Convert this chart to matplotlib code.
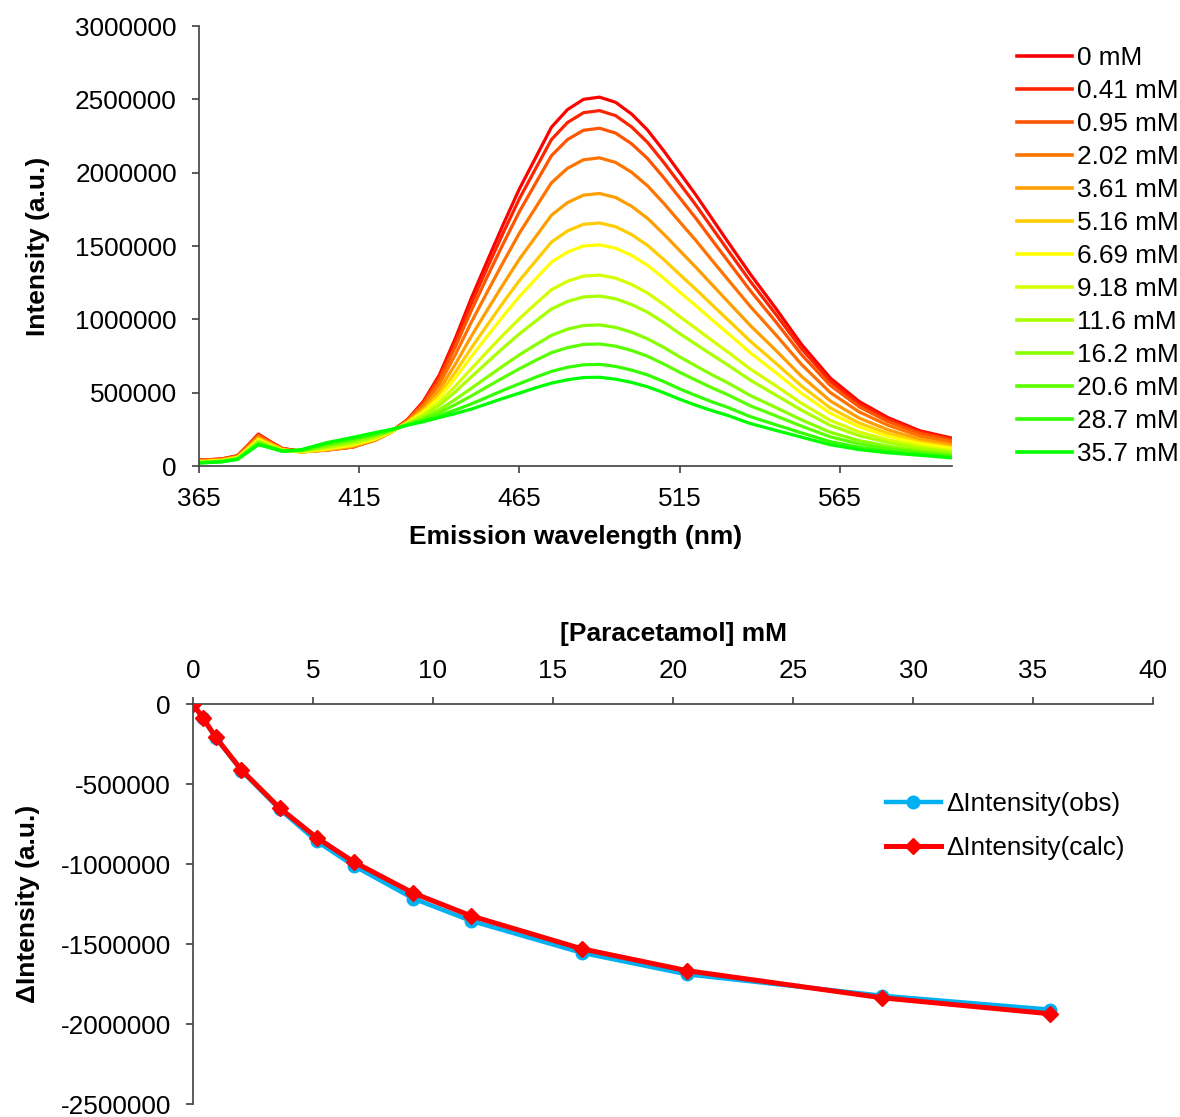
import matplotlib
matplotlib.use("Agg")
import matplotlib.pyplot as plt
from matplotlib.ticker import FuncFormatter, FixedLocator

plt.rcParams['font.family'] = ['Liberation Sans', 'DejaVu Sans']
plt.rcParams['axes.unicode_minus'] = False

# ---------------- data: emission spectra (intensity in thousands a.u.) ----------------
wavelength = [365, 372, 377, 380, 383.5, 387, 391, 397, 405, 413, 420, 425, 430, 435, 440,
              445, 450, 455, 460, 465, 470, 475, 480, 485, 490, 495, 500, 505, 510, 515,
              520, 525, 530, 537, 545, 553, 562, 571, 580, 590, 600]

labels = ["0 mM", "0.41 mM", "0.95 mM", "2.02 mM", "3.61 mM", "5.16 mM", "6.69 mM",
          "9.18 mM", "11.6 mM", "16.2 mM", "20.6 mM", "28.7 mM", "35.7 mM"]

colors = ["#FF0000", "#FF2400", "#FF5500", "#FF7400", "#FF9E00", "#FFCC00", "#FFFF00",
          "#D4FF00", "#AAFF00", "#88FF00", "#5AFF00", "#33FF00", "#00FF00"]

I_0 = [40, 48, 70, 135, 218, 170, 120, 100, 112, 130, 180, 235, 315, 440, 620, 870, 1145, 1400, 1650, 1890, 2100, 2310, 2430, 2500, 2515, 2480, 2400, 2290, 2150, 2000, 1850, 1690, 1530, 1310, 1075, 830, 600, 440, 330, 240, 190]
I_041 = [39, 47, 69, 133, 214, 168, 119, 99, 110, 129, 178, 233, 313, 433, 606, 845, 1109, 1353, 1593, 1823, 2025, 2226, 2342, 2409, 2423, 2389, 2312, 2206, 2071, 1926, 1781, 1627, 1473, 1261, 1035, 800, 578, 424, 318, 232, 184]
I_095 = [38, 46, 67, 130, 210, 165, 118, 97, 109, 129, 177, 232, 311, 425, 588, 813, 1061, 1292, 1518, 1735, 1926, 2116, 2226, 2289, 2303, 2270, 2197, 2096, 1967, 1829, 1691, 1544, 1399, 1197, 983, 760, 550, 404, 303, 221, 175]
I_202 = [36, 44, 65, 125, 202, 160, 116, 96, 108, 130, 176, 230, 306, 410, 557, 759, 981, 1188, 1392, 1588, 1760, 1931, 2030, 2088, 2101, 2070, 2003, 1910, 1792, 1665, 1539, 1405, 1273, 1089, 895, 693, 501, 369, 278, 204, 161]
I_361 = [33, 41, 61, 120, 193, 155, 113, 95, 110, 134, 179, 231, 301, 392, 520, 694, 885, 1065, 1241, 1411, 1561, 1710, 1796, 1847, 1858, 1831, 1771, 1688, 1582, 1469, 1356, 1239, 1122, 959, 789, 612, 444, 327, 247, 183, 144]
I_516 = [31, 39, 59, 115, 185, 150, 111, 95, 114, 139, 182, 231, 297, 378, 489, 640, 805, 962, 1117, 1265, 1396, 1527, 1603, 1648, 1657, 1632, 1578, 1504, 1409, 1306, 1206, 1101, 998, 852, 701, 546, 396, 293, 222, 165, 129]
I_669 = [29, 37, 57, 111, 180, 146, 109, 96, 117, 144, 185, 232, 294, 367, 466, 600, 746, 886, 1024, 1156, 1274, 1390, 1459, 1500, 1508, 1485, 1436, 1368, 1281, 1186, 1094, 999, 906, 773, 637, 496, 360, 267, 203, 152, 119]
I_918 = [27, 35, 54, 106, 172, 141, 107, 99, 124, 153, 192, 235, 290, 352, 435, 545, 664, 781, 896, 1005, 1105, 1202, 1260, 1295, 1302, 1281, 1238, 1179, 1102, 1019, 939, 857, 778, 662, 547, 428, 311, 232, 178, 134, 104]
I_116 = [26, 34, 52, 103, 166, 138, 106, 101, 130, 160, 198, 238, 288, 341, 413, 507, 608, 708, 807, 901, 987, 1071, 1122, 1153, 1159, 1140, 1101, 1048, 979, 903, 831, 759, 689, 586, 484, 381, 277, 207, 160, 121, 94]
I_162 = [24, 32, 50, 98, 159, 133, 104, 104, 139, 171, 207, 241, 284, 327, 383, 454, 530, 607, 684, 758, 826, 891, 933, 958, 962, 945, 912, 867, 809, 744, 683, 623, 567, 481, 399, 315, 230, 173, 135, 104, 80]
I_206 = [22, 30, 48, 95, 154, 130, 102, 107, 146, 179, 214, 244, 282, 318, 364, 419, 478, 541, 603, 663, 720, 773, 807, 829, 832, 817, 788, 748, 696, 639, 586, 534, 486, 411, 342, 272, 199, 151, 119, 93, 71]
I_287 = [21, 29, 46, 92, 148, 127, 101, 109, 154, 188, 222, 247, 279, 308, 343, 382, 423, 470, 517, 561, 605, 645, 673, 690, 693, 679, 654, 621, 576, 526, 481, 438, 400, 337, 281, 226, 166, 127, 101, 81, 61]
I_357 = [20, 28, 45, 90, 145, 125, 100, 112, 160, 195, 228, 250, 278, 302, 330, 358, 388, 425, 462, 497, 533, 565, 588, 603, 605, 592, 570, 540, 500, 455, 415, 378, 345, 290, 243, 197, 145, 112, 90, 73, 55]

spectra = [I_0, I_041, I_095, I_202, I_361, I_516, I_669, I_918, I_116, I_162, I_206, I_287, I_357]

# ---------------- data: titration ----------------
conc = [0, 0.41, 0.95, 2.02, 3.61, 5.16, 6.69, 9.18, 11.6, 16.2, 20.6, 28.7, 35.7]
dI_obs = [0, -90000, -212000, -417000, -658000, -858000, -1010000, -1216000, -1356000,
          -1555000, -1690000, -1823000, -1910000]
dI_calc = [0, -86000, -208000, -412000, -650000, -836000, -986000, -1182000, -1325000,
           -1530000, -1667000, -1836000, -1936000]

FS = 18.8
FSB = 19
W, H = 1180, 1117
fig = plt.figure(figsize=(W / 100, H / 100), dpi=100)

def fx(px):
    return px / W

def fy(py):
    return 1 - py / H

plain = FuncFormatter(lambda v, p: "%d" % v)

# ---------------- top chart ----------------
ax1 = fig.add_axes([fx(199), fy(466), fx(952 - 199), (466 - 26) / H])
for lab, col, vals in zip(labels, colors, spectra):
    ax1.plot(wavelength, [v * 1000 for v in vals], color=col, lw=2.3, label=lab,
             solid_joinstyle='round')
ax1.set_xlim(365, 600)
ax1.set_ylim(0, 3000000)
ax1.xaxis.set_major_locator(FixedLocator([365, 415, 465, 515, 565]))
ax1.yaxis.set_major_locator(FixedLocator([0, 500000, 1000000, 1500000, 2000000, 2500000, 3000000]))
ax1.yaxis.set_major_formatter(plain)
for s in ["top", "right"]:
    ax1.spines[s].set_visible(False)
for s in ["left", "bottom"]:
    ax1.spines[s].set_color("#404040")
    ax1.spines[s].set_linewidth(1.2)
ax1.tick_params(axis="both", direction="out", length=5, width=1.2, color="#404040",
                labelsize=FS, pad=11)
ax1.tick_params(axis="x", pad=10)
ax1.set_xlabel("Emission wavelength (nm)", fontsize=FSB, fontweight="bold", labelpad=10)
ax1.set_ylabel("Intensity (a.u.)", fontsize=FSB, fontweight="bold", labelpad=18)

leg1 = ax1.legend(loc="upper left", bbox_to_anchor=(fx(1017), fy(46)),
                  bbox_transform=fig.transFigure, frameon=False, fontsize=FS,
                  handlelength=2.1, handletextpad=0.2, labelspacing=0.345,
                  borderpad=0, borderaxespad=0)
for h in leg1.get_lines():
    h.set_linewidth(2.6)

# ---------------- bottom chart ----------------
ax2 = fig.add_axes([fx(193), fy(1104), fx(1153 - 193), (1104 - 704) / H])
ax2.plot(conc, dI_obs, color="#00B0F0", lw=3.2, marker="o", ms=9,
         label="ΔIntensity(obs)", zorder=3)
ax2.plot(conc, dI_calc, color="#FF0000", lw=3.6, marker="D", ms=8,
         label="ΔIntensity(calc)", zorder=4)
ax2.set_xlim(0, 40)
ax2.set_ylim(-2500000, 0)
ax2.xaxis.set_major_locator(FixedLocator(list(range(0, 41, 5))))
ax2.yaxis.set_major_locator(FixedLocator([-2500000, -2000000, -1500000, -1000000, -500000, 0]))
ax2.yaxis.set_major_formatter(plain)
ax2.xaxis.tick_top()
ax2.xaxis.set_label_position("top")
for s in ["bottom", "right"]:
    ax2.spines[s].set_visible(False)
for s in ["left", "top"]:
    ax2.spines[s].set_color("#404040")
    ax2.spines[s].set_linewidth(1.2)
ax2.tick_params(axis="both", direction="out", length=5, width=1.2, color="#404040",
                labelsize=FS, pad=11)
ax2.tick_params(axis="x", pad=10)
ax2.set_xlabel("[Paracetamol] mM", fontsize=FSB, fontweight="bold", labelpad=13)
ax2.set_ylabel("ΔIntensity (a.u.)", fontsize=FSB, fontweight="bold", labelpad=15)
for t in ax2.get_xticklabels() + ax2.get_yticklabels():
    t.set_clip_on(False)

ax2.legend(loc="upper left", bbox_to_anchor=(fx(886), fy(792)),
           bbox_transform=fig.transFigure, frameon=False, fontsize=FS,
           handlelength=2.1, handletextpad=0.2, labelspacing=0.78,
           borderpad=0, borderaxespad=0)

fig.savefig("out.png", dpi=100)
